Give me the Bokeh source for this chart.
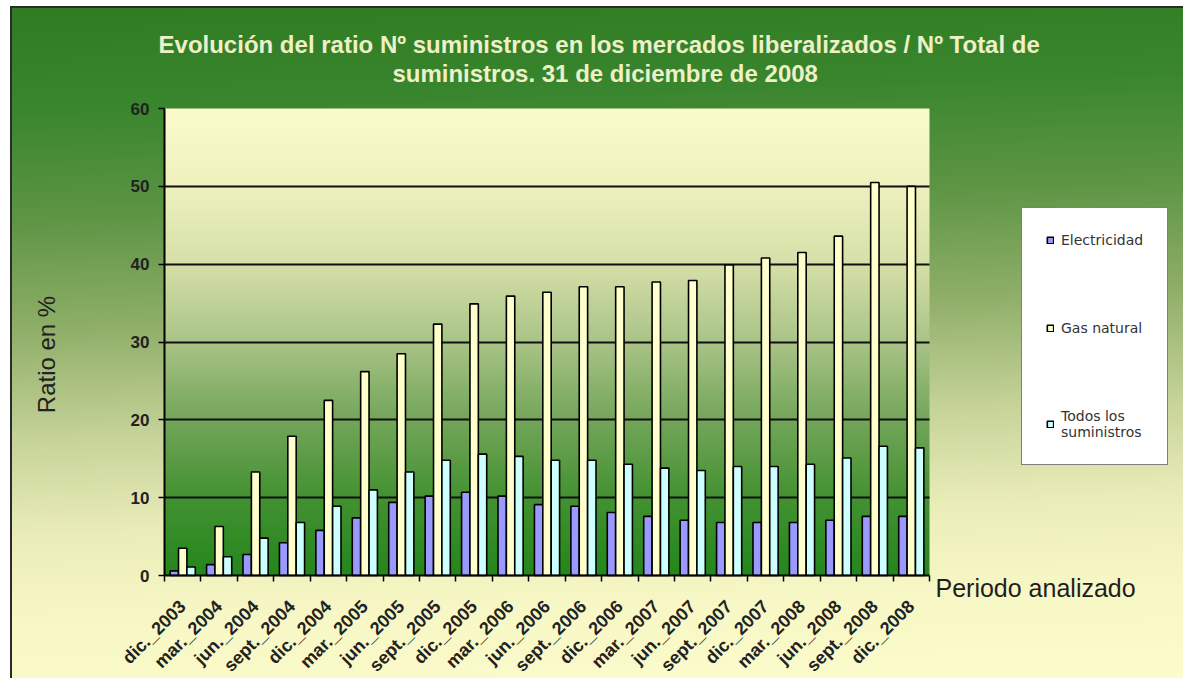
import numpy as np
from math import pi
from bokeh.plotting import figure
from bokeh.models import (Range1d, FixedTicker, Legend, LegendItem, ColumnDataSource,
                          Label)
from bokeh.transform import dodge
from bokeh.embed import file_html
from bokeh.resources import INLINE

# ---------------- data ----------------
periods = ["dic._2003", "mar._2004", "jun._2004", "sept._2004", "dic._2004",
           "mar._2005", "jun._2005", "sept._2005", "dic._2005", "mar._2006",
           "jun._2006", "sept._2006", "dic._2006", "mar._2007", "jun._2007",
           "sept._2007", "dic._2007", "mar._2008", "jun._2008", "sept._2008",
           "dic._2008"]
electricidad = [0.6, 1.4, 2.7, 4.2, 5.8, 7.4, 9.4, 10.2, 10.7, 10.2, 9.1,
                8.9, 8.1, 7.6, 7.1, 6.8, 6.8, 6.8, 7.1, 7.6, 7.6]
gas_natural = [3.5, 6.3, 13.3, 17.9, 22.5, 26.2, 28.5, 32.3, 34.9, 35.9, 36.4,
               37.1, 37.1, 37.7, 37.9, 39.9, 40.8, 41.5, 43.6, 50.5, 50.0]
todos = [1.1, 2.4, 4.8, 6.8, 8.9, 11.0, 13.3, 14.8, 15.6, 15.3, 14.8,
         14.8, 14.3, 13.8, 13.5, 14.0, 14.0, 14.3, 15.1, 16.6, 16.4]
y_ticks = [0, 10, 20, 30, 40, 50, 60]
grid_ticks = [10, 20, 30, 40, 50]
series_names = ["Electricidad", "Gas natural", "Todos los\nsuministros"]

title1 = "Evolución del ratio Nº suministros en  los mercados liberalizados / Nº Total de"
title2 = "suministros.  31 de diciembre de 2008"
x_title = "Periodo analizado"
y_title = "Ratio en %"

n = len(periods)
y_max = 60
centers = np.arange(n) + 0.5
bounds = np.arange(n + 1)

# ---------------- layout (pixels, page = canvas) ----------------
W, H = 1183, 678
PL, PR, PT, PB = 164, 929, 108, 575   # plot-area box
ux = (PR - PL) / n
uy = (PB - PT) / y_max

src = ColumnDataSource(dict(x=centers, e=electricidad, g=gas_natural, t=todos))

p = figure(width=W, height=H, title=None,
           x_range=Range1d(-PL / ux, n + (W - PR) / ux),
           y_range=Range1d(-(H - PB) / uy, y_max + PT / uy),
           output_backend="svg", toolbar_location=None)
p.min_border = 0
p.min_border_left = 0
p.min_border_right = 0
p.min_border_top = 0
p.min_border_bottom = 0
p.border_fill_color = None
p.background_fill_color = None
p.outline_line_color = None
p.styles = {
    "background":
        "linear-gradient(#2b2b2b,#2b2b2b) 10px 6px / 2px 100% no-repeat, "
        "linear-gradient(#2b2b2b,#2b2b2b) 10px 6px / 100% 2px no-repeat, "
        "linear-gradient(178deg, #2e7b22 0%, #3a862e 15%, #5e9545 30%, "
        "#8fae68 45%, #c4d298 60%, #ebedb8 74%, #f8f8c6 87%, #fbfbcc 100%) "
        "10px 6px / 100% 100% no-repeat, #ffffff",
}

# plot-area vertical gradient (style only)
stop_v = [0, 10, 20, 30, 40, 50, 60]
stop_r = [36, 68, 116, 170, 214, 238, 251]
stop_g = [135, 146, 166, 196, 224, 241, 251]
stop_b = [28, 50, 90, 135, 168, 190, 204]
rows = np.linspace(0, y_max, 300)
img = np.zeros((300, 2), dtype=np.uint32)
view = img.view(dtype=np.uint8).reshape((300, 2, 4))
for i, ch in enumerate([stop_r, stop_g, stop_b]):
    view[:, :, i] = np.interp(rows, stop_v, ch)[:, None].astype(np.uint8)
view[:, :, 3] = 255
p.image_rgba(image=[img], x=0, y=0, dw=n, dh=y_max, level="image")

# bars
bw = 0.23
r1 = p.vbar(x=dodge("x", -bw), top="e", width=bw, source=src,
            fill_color="#9999FF", line_color="black", line_width=1.6)
r2 = p.vbar(x=dodge("x", 0.0), top="g", width=bw, source=src,
            fill_color="#FFFFCC", line_color="black", line_width=1.6)
r3 = p.vbar(x=dodge("x", bw), top="t", width=bw, source=src,
            fill_color="#CCFFFF", line_color="black", line_width=1.6)

# grid
p.xgrid.visible = False
g = p.ygrid[0]
g.ticker = FixedTicker(ticks=grid_ticks)
g.grid_line_color = "#111111"
g.grid_line_width = 2
if "cross_bounds" in g.properties():
    g.cross_bounds = (0, n)
else:
    g.visible = False
    p.segment(x0=[0] * len(grid_ticks), x1=[n] * len(grid_ticks),
              y0=grid_ticks, y1=grid_ticks, line_color="#111111",
              line_width=2, level="underlay")

# x axis
xa = p.xaxis[0]
xa.fixed_location = 0
xa.bounds = (0, n)
xa.ticker = FixedTicker(ticks=list(centers), minor_ticks=list(bounds))
xa.major_label_overrides = {float(c): lab for c, lab in zip(centers, periods)}
xa.major_tick_out = 0
xa.major_tick_in = 0
xa.minor_tick_out = 6
xa.minor_tick_in = 0
xa.minor_tick_line_color = "black"
xa.minor_tick_line_width = 1.5
xa.axis_line_color = "black"
xa.axis_line_width = 2
xa.major_label_orientation = pi / 4
xa.major_label_text_font = "Liberation Sans"
xa.major_label_text_font_style = "bold"
xa.major_label_text_font_size = "18px"
xa.major_label_text_color = "#222222"
xa.major_label_standoff = 22

# y axis
ya = p.yaxis[0]
ya.fixed_location = 0
ya.bounds = (0, y_max)
ya.ticker = FixedTicker(ticks=y_ticks)
ya.major_tick_out = 6
ya.major_tick_in = 0
ya.minor_tick_out = 0
ya.minor_tick_in = 0
ya.major_tick_line_color = "black"
ya.major_tick_line_width = 1.5
ya.axis_line_color = "black"
ya.axis_line_width = 2
ya.major_label_text_font = "Liberation Sans"
ya.major_label_text_font_style = "bold"
ya.major_label_text_font_size = "17px"
ya.major_label_text_color = "#222222"
ya.major_label_standoff = 9

# series legend
legend = Legend(items=[LegendItem(label=series_names[0], renderers=[r1]),
                       LegendItem(label=series_names[1], renderers=[r2]),
                       LegendItem(label=series_names[2], renderers=[r3])],
                location=(1021, H - 465))
legend.border_line_color = "black"
legend.border_line_width = 1.5
legend.background_fill_color = "white"
legend.background_fill_alpha = 1.0
legend.label_text_font = "DejaVu Sans"
legend.label_text_font_size = "14px"
legend.label_text_color = "#333333"
legend.glyph_width = 8
legend.glyph_height = 8
legend.label_height = 14
legend.label_standoff = 7
legend.spacing = 72
legend.padding = 24
legend.margin = 0
p.add_layout(legend)

# titles, axis titles (screen units inside the full-canvas frame)
for txt, xx, yy in [(title1, 602, H - 44), (title2, 608, H - 73)]:
    p.add_layout(Label(x=xx, y=yy, x_units="screen", y_units="screen", text=txt,
                       text_align="center", text_baseline="alphabetic",
                       text_font="Liberation Sans", text_font_style="bold",
                       text_font_size="24px", text_color="#EEF0C8"))
p.add_layout(Label(x=935, y=H - 587, x_units="screen", y_units="screen",
                   text=x_title, text_align="left", text_baseline="alphabetic",
                   text_font="Liberation Sans", text_font_size="25px",
                   text_color="#1e1e1e"))
p.add_layout(Label(x=46, y=H - 354, x_units="screen", y_units="screen",
                   text=y_title, angle=pi / 2, text_align="center",
                   text_baseline="middle", text_font="Liberation Sans",
                   text_font_size="24px", text_color="#222222"))

open("out.html", "w").write(file_html(p, INLINE))
